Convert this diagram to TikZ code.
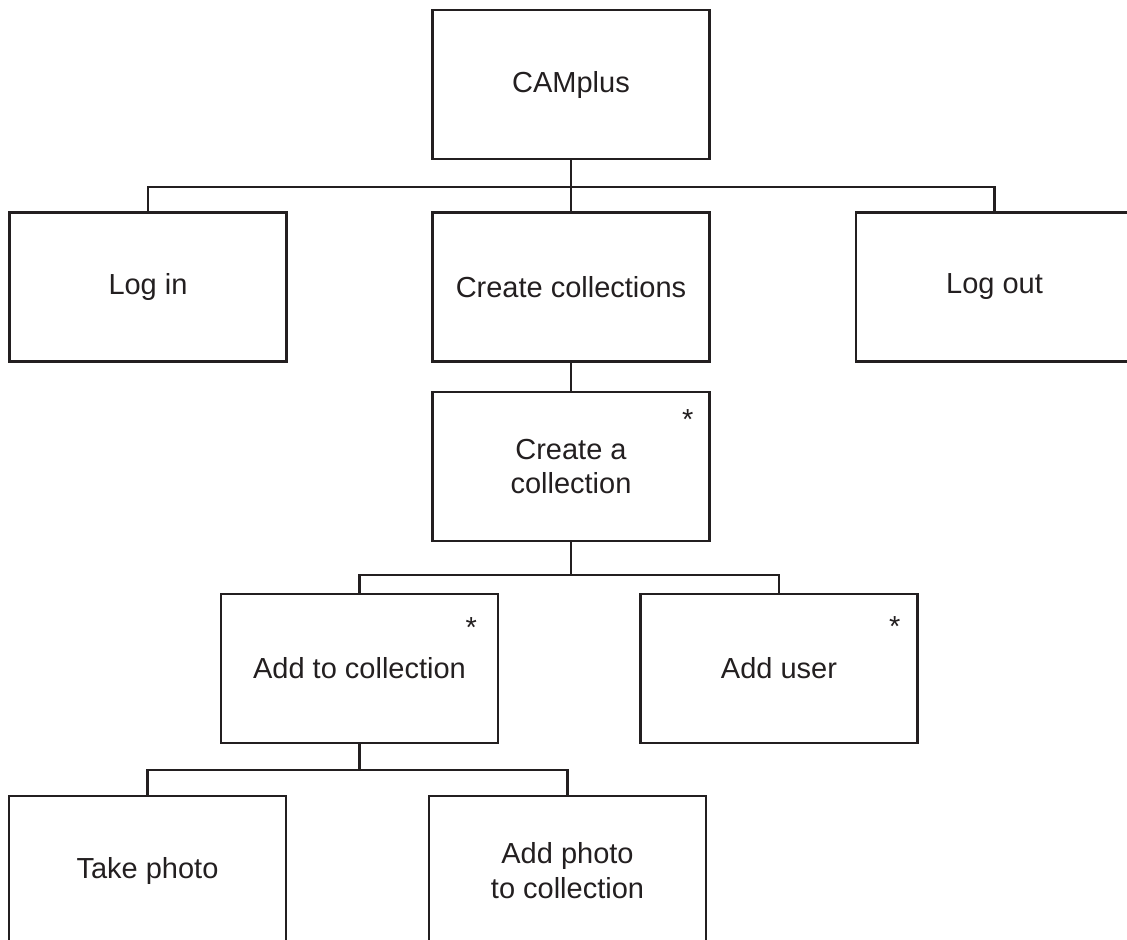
\documentclass[tikz,border=0pt]{standalone}
\usepackage{fontspec}
\setmainfont{Liberation Sans}
\usepackage{xcolor}
\usetikzlibrary{positioning, calc}
\definecolor{inkgray}{RGB}{35,31,32}

\begin{document}
\begin{tikzpicture}[
        box/.style={draw=inkgray, line width=1.3pt, minimum width=5.54cm,
                    minimum height=2.98cm, align=center, text=inkgray,
                    font=\fontsize{16.5}{19.8}\selectfont},
        star/.style={anchor=base, inner sep=0pt, text=inkgray,
                     font=\fontsize{16.5}{19.8}\selectfont},
        link/.style={draw=inkgray, line width=1.3pt}
      ]
        \clip (0,0) rectangle (22.54,-18.78);

        \node[box] (camplus) at (11.42,-1.69) {CAMplus};

        \node[box] (login) at (2.96,-5.74) {Log in};
        \node[box] (createall) at (11.42,-5.74) {Create collections};
        \node[box] (logout) at (19.89,-5.74) {Log out};

        \node[box] (createone) at (11.42,-9.33) {Create a\\collection};

        \node[box] (addto) at (7.19,-13.37) {Add to collection};
        \node[box] (adduser) at (15.58,-13.37) {Add user};

        \node[box] (takephoto) at (2.95,-17.41) {Take photo};
        \node[box] (addphoto) at (11.35,-17.41) {Add photo\\to collection};

        % iteration marks
        \node[star] (s1) at ([shift={(-0.46,-0.78)}]createone.north east) {*};
        \node[star] (s2) at ([shift={(-0.56,-0.90)}]addto.north east) {*};
        \node[star] (s3) at ([shift={(-0.48,-0.88)}]adduser.north east) {*};

        \draw[link] (camplus.south) -- ++(0,-0.54) coordinate (bus1)
          -| (login.north) (bus1) -| (logout.north) (bus1) -- (createall.north);
        \draw[link] (createall) -- (createone);
        \draw[link] (createone.south) -- ++(0,-0.66) coordinate (bus2)
          -| (addto.north) (bus2) -| (adduser.north);
        \draw[link] (addto.south) -- ++(0,-0.52) coordinate (bus3)
          -| (takephoto.north) (bus3) -| (addphoto.north);
      \end{tikzpicture}
\end{document}
